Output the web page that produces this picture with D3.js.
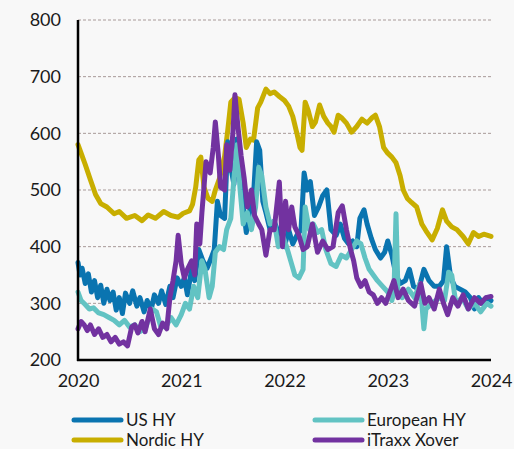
<!DOCTYPE html>
<html>
<head>
<meta charset="utf-8">
<script src="https://cdn.jsdelivr.net/npm/d3@7"></script>
<style>
  body { margin: 0; background: #f8f8f8; }
  svg { display: block; background: #f8f8f8; }
  text { font-family: Lato, "Open Sans", sans-serif; fill: #1a1a1a; }
</style>
</head>
<body>
<svg width="514" height="449"></svg>
<script>
// spreads in bp, [fractional year, value]
var seriesNames = ["US HY", "European HY", "Nordic HY", "iTraxx Xover"];
var seriesColors = ["#0a74b0", "#62c3c3", "#c8ae00", "#7232a0"];
var yTicks = [200, 300, 400, 500, 600, 700, 800];
var xTicks = [2020, 2021, 2022, 2023, 2024];

var usHY = [
  [2020.00,372],[2020.02,350],[2020.04,362],[2020.07,335],[2020.10,352],[2020.13,320],[2020.16,340],
  [2020.19,310],[2020.22,332],[2020.25,300],[2020.28,325],[2020.31,305],[2020.34,320],[2020.37,288],
  [2020.40,310],[2020.43,282],[2020.46,318],[2020.50,300],[2020.53,322],[2020.57,295],[2020.60,310],
  [2020.64,285],[2020.67,305],[2020.71,290],[2020.74,315],[2020.78,300],[2020.81,322],[2020.85,298],
  [2020.89,330],[2020.92,310],[2020.96,345],[2021.00,330],[2021.03,345],[2021.06,315],[2021.10,360],
  [2021.13,340],[2021.17,395],[2021.21,375],[2021.25,362],[2021.29,380],[2021.32,395],[2021.35,480],
  [2021.38,455],[2021.42,450],[2021.45,585],[2021.48,540],[2021.51,510],[2021.54,590],[2021.57,520],
  [2021.60,470],[2021.63,425],[2021.67,470],[2021.70,490],[2021.73,585],[2021.76,570],[2021.79,480],
  [2021.82,460],[2021.86,430],[2021.90,445],[2021.95,420],[2022.00,400],[2022.04,430],[2022.08,405],
  [2022.12,420],[2022.16,430],[2022.19,530],[2022.22,500],[2022.25,515],[2022.29,455],[2022.33,470],
  [2022.37,490],[2022.41,500],[2022.45,430],[2022.50,420],[2022.54,440],[2022.58,415],[2022.62,405],
  [2022.66,410],[2022.70,400],[2022.73,450],[2022.77,465],[2022.80,440],[2022.84,415],[2022.88,395],
  [2022.93,380],[2022.97,390],[2023.00,410],[2023.04,385],[2023.08,350],[2023.12,335],[2023.17,340],
  [2023.21,360],[2023.25,330],[2023.30,325],[2023.35,360],[2023.40,340],[2023.45,330],[2023.50,330],
  [2023.54,340],[2023.57,400],[2023.61,345],[2023.65,330],[2023.70,325],[2023.75,320],[2023.80,310],
  [2023.84,290],[2023.88,310],[2023.92,300],[2023.96,310],[2024.00,305]
];

var europeanHY = [
  [2020.00,320],[2020.03,305],[2020.07,298],[2020.11,290],[2020.15,292],[2020.20,283],[2020.25,280],
  [2020.30,275],[2020.35,270],[2020.40,262],[2020.45,270],[2020.50,258],[2020.55,262],[2020.60,250],
  [2020.65,255],[2020.72,290],[2020.76,285],[2020.80,260],[2020.85,258],[2020.90,275],[2020.95,262],
  [2021.00,280],[2021.04,300],[2021.08,290],[2021.12,330],[2021.16,310],[2021.20,375],[2021.23,360],
  [2021.27,310],[2021.30,330],[2021.33,390],[2021.37,400],[2021.41,395],[2021.44,430],[2021.48,450],
  [2021.51,520],[2021.54,580],[2021.57,500],[2021.60,440],[2021.64,460],[2021.68,430],[2021.72,470],
  [2021.75,540],[2021.78,525],[2021.82,470],[2021.86,440],[2021.90,445],[2021.94,400],[2021.98,420],
  [2022.02,400],[2022.06,375],[2022.10,350],[2022.14,345],[2022.18,360],[2022.20,470],[2022.24,430],
  [2022.28,440],[2022.32,425],[2022.36,430],[2022.40,395],[2022.45,370],[2022.50,365],[2022.55,385],
  [2022.60,380],[2022.65,395],[2022.70,410],[2022.74,405],[2022.78,380],[2022.82,360],[2022.86,350],
  [2022.90,340],[2022.95,330],[2023.00,320],[2023.04,305],[2023.06,320],[2023.08,458],[2023.10,315],
  [2023.14,310],[2023.20,325],[2023.26,310],[2023.31,335],[2023.33,300],[2023.35,255],[2023.37,290],
  [2023.43,300],[2023.50,310],[2023.55,305],[2023.59,355],[2023.62,350],[2023.66,300],[2023.72,310],
  [2023.78,290],[2023.84,300],[2023.90,285],[2023.96,300],[2024.00,295]
];

var nordicHY = [
  [2020.00,580],[2020.03,565],[2020.07,545],[2020.12,518],[2020.17,492],[2020.22,476],[2020.28,470],
  [2020.35,458],[2020.40,462],[2020.47,450],[2020.55,455],[2020.62,446],[2020.68,456],[2020.75,450],
  [2020.83,462],[2020.90,455],[2020.97,452],[2021.02,459],[2021.08,463],[2021.11,475],[2021.14,505],
  [2021.17,553],[2021.19,558],[2021.22,505],[2021.26,485],[2021.30,480],[2021.33,500],[2021.37,520],
  [2021.42,560],[2021.45,605],[2021.48,655],[2021.52,663],[2021.56,660],[2021.60,618],[2021.63,575],
  [2021.67,590],[2021.70,588],[2021.74,645],[2021.77,655],[2021.82,678],[2021.86,670],[2021.90,673],
  [2021.95,665],[2022.00,658],[2022.04,648],[2022.08,630],[2022.12,600],[2022.15,575],[2022.17,570],
  [2022.20,655],[2022.23,640],[2022.27,612],[2022.30,620],[2022.34,650],[2022.38,630],[2022.42,618],
  [2022.45,612],[2022.48,602],[2022.52,632],[2022.55,628],[2022.60,618],[2022.65,602],[2022.70,612],
  [2022.75,625],[2022.80,618],[2022.85,628],[2022.88,632],[2022.92,612],[2022.96,575],[2023.00,565],
  [2023.04,558],[2023.08,548],[2023.12,525],[2023.15,500],[2023.19,485],[2023.23,478],[2023.28,470],
  [2023.33,440],[2023.37,428],[2023.43,412],[2023.48,432],[2023.53,465],[2023.57,445],[2023.62,435],
  [2023.67,430],[2023.73,418],[2023.78,405],[2023.83,425],[2023.88,418],[2023.93,422],[2024.00,418]
];

var itraxxXover = [
  [2020.00,255],[2020.03,268],[2020.06,262],[2020.09,252],[2020.12,262],[2020.16,245],[2020.20,255],
  [2020.24,240],[2020.28,245],[2020.32,232],[2020.36,240],[2020.40,228],[2020.44,232],[2020.48,225],
  [2020.52,258],[2020.55,262],[2020.58,248],[2020.62,268],[2020.65,250],[2020.70,290],[2020.74,255],
  [2020.78,245],[2020.82,265],[2020.86,255],[2020.89,310],[2020.92,340],[2020.95,375],[2020.97,420],
  [2021.00,370],[2021.03,345],[2021.06,360],[2021.10,375],[2021.13,350],[2021.15,440],[2021.18,405],
  [2021.20,460],[2021.24,550],[2021.28,530],[2021.31,575],[2021.33,620],[2021.36,560],[2021.38,505],
  [2021.42,500],[2021.44,580],[2021.47,535],[2021.50,600],[2021.52,668],[2021.55,610],[2021.58,560],
  [2021.61,520],[2021.64,470],[2021.68,500],[2021.71,455],[2021.75,440],[2021.78,430],[2021.82,385],
  [2021.86,430],[2021.90,430],[2021.95,514],[2021.98,400],[2022.01,480],[2022.04,430],[2022.07,470],
  [2022.10,435],[2022.14,420],[2022.18,395],[2022.22,400],[2022.27,440],[2022.32,390],[2022.37,410],
  [2022.42,395],[2022.47,400],[2022.52,460],[2022.56,472],[2022.60,430],[2022.64,395],[2022.67,375],
  [2022.70,345],[2022.74,330],[2022.78,340],[2022.82,320],[2022.86,315],[2022.90,300],[2022.94,310],
  [2022.98,300],[2023.02,320],[2023.06,340],[2023.10,310],[2023.15,325],[2023.20,305],[2023.26,295],
  [2023.32,335],[2023.36,300],[2023.40,310],[2023.45,290],[2023.50,325],[2023.54,300],[2023.58,280],
  [2023.63,310],[2023.68,295],[2023.73,315],[2023.78,290],[2023.84,310],[2023.90,300],[2023.95,310],
  [2024.00,312]
];

var svg = d3.select("svg");
var plotLeft = 78, plotRight = 491, plotTop = 20, plotBottom = 360;

var x = d3.scaleLinear().domain([2020, 2024]).range([plotLeft, plotRight]);
var y = d3.scaleLinear().domain([200, 800]).range([plotBottom, plotTop]);

// dashed gridlines
svg.append("g")
  .selectAll("line")
  .data(yTicks.filter(function(d) { return d > 200; }))
  .enter().append("line")
  .attr("x1", plotLeft).attr("x2", plotRight)
  .attr("y1", function(d) { return y(d); })
  .attr("y2", function(d) { return y(d); })
  .attr("stroke", "#a89a98")
  .attr("stroke-width", 1)
  .attr("stroke-dasharray", "3,2");

// axes
var yAxis = svg.append("g")
  .attr("transform", "translate(" + plotLeft + ",0)")
  .call(d3.axisLeft(y).tickValues(yTicks).tickSize(0).tickPadding(17).tickFormat(d3.format("d")));
yAxis.select(".domain").remove();
yAxis.selectAll("text").style("font-size", "18px").attr("font-family", null);

var xAxis = svg.append("g")
  .attr("transform", "translate(0," + plotBottom + ")")
  .call(d3.axisBottom(x).tickValues(xTicks).tickSize(0).tickPadding(14).tickFormat(d3.format("d")));
xAxis.select(".domain").remove();
xAxis.selectAll("text").style("font-size", "18px").attr("font-family", null);

var line = d3.line()
  .x(function(d) { return x(d[0]); })
  .y(function(d) { return y(d[1]); })
  .curve(d3.curveLinear);

var drawOrder = [[nordicHY, 2], [usHY, 0], [europeanHY, 1], [itraxxXover, 3]];
drawOrder.forEach(function(s) {
  svg.append("path")
    .datum(s[0])
    .attr("fill", "none")
    .attr("stroke", seriesColors[s[1]])
    .attr("stroke-width", 5)
    .attr("stroke-linejoin", "round")
    .attr("stroke-linecap", "round")
    .attr("d", line);
});

// axis lines on top
svg.append("line")
  .attr("x1", plotLeft).attr("x2", plotLeft).attr("y1", plotTop).attr("y2", plotBottom + 1)
  .attr("stroke", "#000").attr("stroke-width", 2.5);
svg.append("line")
  .attr("x1", plotLeft - 1).attr("x2", plotRight).attr("y1", plotBottom).attr("y2", plotBottom)
  .attr("stroke", "#000").attr("stroke-width", 2.5);

// legend
var legendPos = [[72, 420], [313, 420], [72, 440], [313, 440]];
var legend = svg.append("g")
  .selectAll("g")
  .data(seriesNames)
  .enter().append("g")
  .attr("transform", function(d, i) { return "translate(" + legendPos[i][0] + "," + legendPos[i][1] + ")"; });

legend.append("line")
  .attr("x1", 2).attr("x2", 49)
  .attr("stroke", function(d, i) { return seriesColors[i]; })
  .attr("stroke-width", 5)
  .attr("stroke-linecap", "round");

legend.append("text")
  .attr("x", 54)
  .attr("dy", "0.35em")
  .style("font-size", "17px")
  .text(function(d) { return d; });
</script>
</body>
</html>
